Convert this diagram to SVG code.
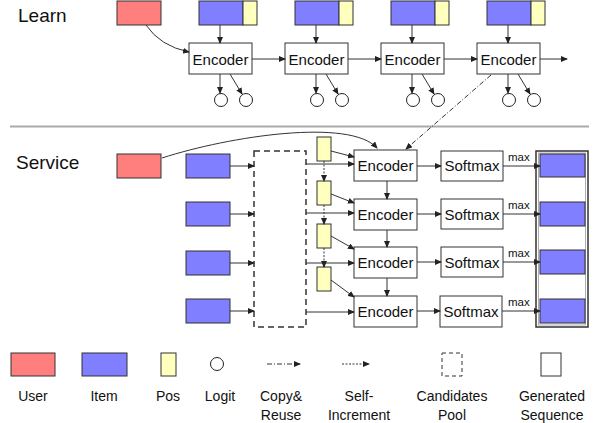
<svg xmlns="http://www.w3.org/2000/svg" width="600" height="423" viewBox="0 0 600 423">
<defs>
<marker id="ah" markerUnits="userSpaceOnUse" markerWidth="7" markerHeight="6" refX="6" refY="3" orient="auto">
<path d="M0,0 L7,3 L0,6 z" fill="#222"/>
</marker>
<style>
text{font-family:"Liberation Sans",Arial,sans-serif;fill:#111}
.user{fill:#FF7F7F;stroke:#333;stroke-width:1}
.item{fill:#7F7FFF;stroke:#333;stroke-width:1}
.pos{fill:#FFFFBE;stroke:#333;stroke-width:1}
.box{fill:#fff;stroke:#333;stroke-width:1}
.logit{fill:#fff;stroke:#222;stroke-width:1}
.lbl{font-size:15px;text-anchor:middle}
.sec{font-size:19px}
.leg{font-size:14px;text-anchor:middle}
.max{font-size:11.5px}
.ln{fill:none;stroke:#333;stroke-width:1;marker-end:url(#ah)}
.cr{fill:none;stroke:#333;stroke-width:1;stroke-dasharray:5,2,1,2;marker-end:url(#ah)}
.si{fill:none;stroke:#333;stroke-width:1;stroke-dasharray:2,1.5;marker-end:url(#ah)}
.pool{fill:none;stroke:#333;stroke-width:1.5;stroke-dasharray:6,4}
</style>
</defs>
<text class="sec" x="18" y="22">Learn</text>
<text class="sec" x="16" y="169">Service</text>
<line x1="10" y1="126.5" x2="589" y2="126.5" stroke="#AAAAAA" stroke-width="2"/>

<g id="learn-user"><rect class="user" x="117" y="1" width="44" height="24"/></g>
<g id="learn-input-1"><rect class="item" x="199" y="1" width="44" height="24"/><rect class="pos" x="243" y="1" width="14" height="24"/></g>
<g id="learn-input-2"><rect class="item" x="295" y="1" width="44" height="24"/><rect class="pos" x="339" y="1" width="14" height="24"/></g>
<g id="learn-input-3"><rect class="item" x="391" y="1" width="44" height="24"/><rect class="pos" x="435" y="1" width="14" height="24"/></g>
<g id="learn-input-4"><rect class="item" x="487" y="1" width="44" height="24"/><rect class="pos" x="531" y="1" width="14" height="24"/></g>

<g id="learn-encoder-1"><rect class="box" x="189" y="43" width="63" height="31"/><text class="lbl" x="220.5" y="64.5">Encoder</text></g>
<g id="learn-encoder-2"><rect class="box" x="285" y="43" width="63" height="31"/><text class="lbl" x="316.5" y="64.5">Encoder</text></g>
<g id="learn-encoder-3"><rect class="box" x="381" y="43" width="63" height="31"/><text class="lbl" x="412.5" y="64.5">Encoder</text></g>
<g id="learn-encoder-4"><rect class="box" x="477" y="43" width="63" height="31"/><text class="lbl" x="508.5" y="64.5">Encoder</text></g>

<g id="learn-logits-1"><circle class="logit" cx="221" cy="100" r="6.5"/><circle class="logit" cx="246" cy="100" r="6.5"/></g>
<g id="learn-logits-2"><circle class="logit" cx="317" cy="100" r="6.5"/><circle class="logit" cx="342" cy="100" r="6.5"/></g>
<g id="learn-logits-3"><circle class="logit" cx="413" cy="100" r="6.5"/><circle class="logit" cx="438" cy="100" r="6.5"/></g>
<g id="learn-logits-4"><circle class="logit" cx="509" cy="100" r="6.5"/><circle class="logit" cx="534" cy="100" r="6.5"/></g>

<g id="service-user"><rect class="user" x="117" y="154" width="44" height="24"/></g>
<g id="service-item-1"><rect class="item" x="186" y="154" width="44" height="24"/></g>
<g id="service-item-2"><rect class="item" x="186" y="202" width="44" height="24"/></g>
<g id="service-item-3"><rect class="item" x="186" y="251" width="44" height="24"/></g>
<g id="service-item-4"><rect class="item" x="186" y="299" width="44" height="24"/></g>
<g id="candidates-pool"><rect class="pool" x="254" y="151" width="52" height="176"/></g>

<g id="service-pos-1"><rect class="pos" x="317" y="137" width="14" height="24"/></g>
<g id="service-pos-2"><rect class="pos" x="317" y="181" width="14" height="24"/></g>
<g id="service-pos-3"><rect class="pos" x="317" y="224" width="14" height="24"/></g>
<g id="service-pos-4"><rect class="pos" x="317" y="267" width="14" height="24"/></g>

<g id="service-encoder-1"><rect class="box" x="354" y="150" width="63" height="31"/><text class="lbl" x="385.5" y="171">Encoder</text></g>
<g id="service-encoder-2"><rect class="box" x="354" y="199" width="63" height="31"/><text class="lbl" x="385.5" y="220">Encoder</text></g>
<g id="service-encoder-3"><rect class="box" x="354" y="247" width="63" height="31"/><text class="lbl" x="385.5" y="268">Encoder</text></g>
<g id="service-encoder-4"><rect class="box" x="354" y="296" width="63" height="31"/><text class="lbl" x="385.5" y="317">Encoder</text></g>

<g id="softmax-1"><rect class="box" x="441" y="151" width="62" height="30"/><text class="lbl" x="472" y="171">Softmax</text></g>
<g id="softmax-2"><rect class="box" x="441" y="199" width="62" height="30"/><text class="lbl" x="472" y="219.5">Softmax</text></g>
<g id="softmax-3"><rect class="box" x="441" y="247" width="62" height="30"/><text class="lbl" x="472" y="268">Softmax</text></g>
<g id="softmax-4"><rect class="box" x="440" y="296" width="62" height="31"/><text class="lbl" x="471" y="317">Softmax</text></g>

<g id="generated-sequence">
<rect x="536" y="151" width="52" height="176" fill="#fff" stroke="#333" stroke-width="1.5"/>
<rect x="538.5" y="153" width="47" height="172" fill="none" stroke="#999" stroke-width="0.8"/>
<rect class="item" x="540" y="154" width="45" height="23"/>
<rect class="item" x="540" y="202" width="45" height="24"/>
<rect class="item" x="540" y="250" width="45" height="24"/>
<rect class="item" x="540" y="299" width="45" height="24"/>
</g>

<g id="connectors">
<path class="ln" d="M146,25 Q160,46 189,52"/>
<line class="ln" x1="220" y1="25" x2="220" y2="43"/>
<line class="ln" x1="316" y1="25" x2="316" y2="43"/>
<line class="ln" x1="412" y1="25" x2="412" y2="43"/>
<line class="ln" x1="508" y1="25" x2="508" y2="43"/>
<line class="ln" x1="252" y1="59" x2="285" y2="59"/>
<line class="ln" x1="348" y1="59" x2="381" y2="59"/>
<line class="ln" x1="444" y1="59" x2="477" y2="59"/>
<line class="ln" x1="540" y1="59" x2="567" y2="59"/>
<line class="ln" x1="220" y1="74" x2="220" y2="93"/>
<line class="ln" x1="230" y1="74" x2="242" y2="94"/>
<line class="ln" x1="316" y1="74" x2="316" y2="93"/>
<line class="ln" x1="326" y1="74" x2="338" y2="94"/>
<line class="ln" x1="412" y1="74" x2="412" y2="93"/>
<line class="ln" x1="422" y1="74" x2="434" y2="94"/>
<line class="ln" x1="508" y1="74" x2="508" y2="93"/>
<line class="ln" x1="518" y1="74" x2="530" y2="94"/>
<path class="cr" d="M491,75 L406,149"/>
<path class="ln" d="M162,158 C230,136 350,118 377,148"/>
<line class="ln" x1="230" y1="166" x2="254" y2="166"/>
<line class="ln" x1="230" y1="214" x2="254" y2="214"/>
<line class="ln" x1="230" y1="263" x2="254" y2="263"/>
<line class="ln" x1="230" y1="311" x2="254" y2="311"/>
<line class="ln" x1="306" y1="164" x2="354" y2="164"/>
<line class="ln" x1="306" y1="213" x2="354" y2="213"/>
<line class="ln" x1="306" y1="263" x2="354" y2="263"/>
<line class="ln" x1="306" y1="312" x2="354" y2="312"/>
<line class="si" x1="324" y1="161" x2="324" y2="181"/>
<line class="si" x1="324" y1="205" x2="324" y2="224"/>
<line class="si" x1="324" y1="248" x2="324" y2="267"/>
<line class="ln" x1="331" y1="151" x2="354" y2="157"/>
<line class="ln" x1="331" y1="194" x2="354" y2="203"/>
<line class="ln" x1="331" y1="236" x2="354" y2="249"/>
<line class="ln" x1="331" y1="280" x2="354" y2="297"/>
<line class="ln" x1="387" y1="181" x2="387" y2="199"/>
<line class="ln" x1="387" y1="230" x2="387" y2="247"/>
<line class="ln" x1="387" y1="278" x2="387" y2="296"/>
<line class="ln" x1="417" y1="166" x2="441" y2="166"/>
<line class="ln" x1="417" y1="214" x2="441" y2="214"/>
<line class="ln" x1="417" y1="262" x2="441" y2="262"/>
<line class="ln" x1="417" y1="311" x2="440" y2="311"/>
<line class="ln" x1="503" y1="166" x2="540" y2="166"/>
<line class="ln" x1="503" y1="214" x2="540" y2="214"/>
<line class="ln" x1="503" y1="262" x2="540" y2="262"/>
<line class="ln" x1="502" y1="311" x2="540" y2="311"/>
<text class="max" x="508" y="161">max</text>
<text class="max" x="508" y="209">max</text>
<text class="max" x="508" y="257">max</text>
<text class="max" x="508" y="306">max</text>
</g>

<g id="legend">
<rect class="user" x="11" y="353" width="44" height="23"/>
<rect class="item" x="82" y="353" width="45" height="23"/>
<rect class="pos" x="161" y="353" width="15" height="23"/>
<circle class="logit" cx="217" cy="364" r="6.5"/>
<line class="cr" x1="267" y1="364" x2="300" y2="364"/>
<line class="si" x1="342" y1="364" x2="369" y2="364"/>
<rect x="442" y="353" width="20" height="23" fill="none" stroke="#333" stroke-width="1" stroke-dasharray="4,3"/>
<rect x="541" y="353" width="20" height="23" fill="#fff" stroke="#333" stroke-width="1"/>
<text class="leg" x="33" y="401">User</text>
<text class="leg" x="104" y="401">Item</text>
<text class="leg" x="168" y="401">Pos</text>
<text class="leg" x="220" y="401">Logit</text>
<text class="leg" x="281" y="401">Copy&amp;</text>
<text class="leg" x="281" y="420">Reuse</text>
<text class="leg" x="359" y="401">Self-</text>
<text class="leg" x="359" y="420">Increment</text>
<text class="leg" x="452" y="401">Candidates</text>
<text class="leg" x="452" y="420">Pool</text>
<text class="leg" x="552" y="401">Generated</text>
<text class="leg" x="552" y="420">Sequence</text>
</g>
</svg>
